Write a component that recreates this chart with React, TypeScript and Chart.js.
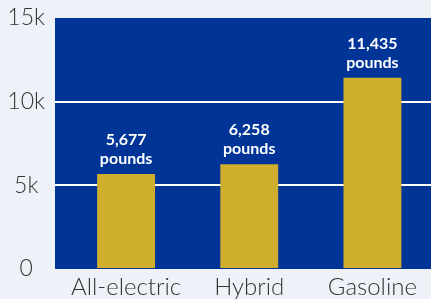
import React, { useEffect, useRef } from "react";
import { Chart, registerables } from "chart.js";

Chart.register(...registerables);

const categories = ["All-electric", "Hybrid", "Gasoline"];
const pounds = [5677, 6258, 11435];
const valueLabels = ["5,677", "6,258", "11,435"];
const unitLabel = "pounds";
const yTicks = [0, 5000, 10000, 15000];

const BLUE = "#003597";
const GOLD = "#cfae2e";
const BG = "#eef1f7";
const TEXT = "#333333";

const bgPlugin = {
  id: "plotBg",
  beforeDraw(chart: any) {
    const { ctx, chartArea } = chart;
    ctx.save();
    ctx.fillStyle = BG;
    ctx.fillRect(0, 0, chart.width, chart.height);
    ctx.fillStyle = BLUE;
    const ext = 9.5;
    ctx.fillRect(chartArea.left - ext, chartArea.top, chart.width - chartArea.left + ext, chartArea.bottom - chartArea.top);
    ctx.restore();
  },
};

const labelPlugin = {
  id: "barLabels",
  afterDatasetsDraw(chart: any) {
    const { ctx } = chart;
    const meta = chart.getDatasetMeta(0);
    ctx.save();
    ctx.fillStyle = "#ffffff";
    ctx.font = "bold 16px Lato, sans-serif";
    ctx.textAlign = "center";
    ctx.textBaseline = "middle";
    meta.data.forEach((bar: any, i: number) => {
      ctx.fillText(unitLabel, bar.x, bar.y - 15);
      ctx.fillText(valueLabels[i], bar.x, bar.y - 34);
    });
    ctx.restore();
  },
};

export default function App() {
  const ref = useRef<HTMLCanvasElement | null>(null);
  useEffect(() => {
    document.body.style.margin = "0";
    document.body.style.overflow = "hidden";
    const canvas = ref.current!;
    const chart = new Chart(canvas, {
      type: "bar",
      data: {
        labels: categories,
        datasets: [
          {
            data: pounds,
            backgroundColor: GOLD,
            borderWidth: 0,
            barPercentage: 0.47,
            categoryPercentage: 1,
          },
        ],
      },
      options: {
        responsive: false,
        animation: false,
        layout: { padding: { top: 18, right: 0, left: 0, bottom: 0 } },
        plugins: { legend: { display: false }, tooltip: { enabled: false } },
        scales: {
          x: {
            grid: { display: false, drawTicks: false },
            border: { display: false },
            ticks: {
              color: TEXT,
              font: { family: "Lato, sans-serif", size: 24, weight: 300 },
              padding: 4,
              maxRotation: 0,
            },
            afterFit(scale: any) {
              scale.height = 30;
            },
          },
          y: {
            min: 0,
            max: 15000,
            afterBuildTicks(scale: any) {
              scale.ticks = yTicks.map((v) => ({ value: v }));
            },
            border: { display: false },
            grid: {
              color: (c: any) =>
                c.tick && (c.tick.value === 5000 || c.tick.value === 10000) ? "#ffffff" : "rgba(0,0,0,0)",
              tickColor: (c: any) =>
                c.tick && (c.tick.value === 5000 || c.tick.value === 10000) ? "#ffffff" : "rgba(0,0,0,0)",
              lineWidth: 2,
              tickLength: 9.5,
            },
            ticks: {
              color: TEXT,
              font: { family: "Lato, sans-serif", size: 23, weight: 300 },
              crossAlign: "center",
              padding: 10,
              callback: (v: any) => (v === 0 ? "0" : v / 1000 + "k"),
            },
            afterFit(scale: any) {
              scale.width = 64.5;
              scale.paddingTop = 0;
              scale.paddingBottom = 0;
            },
          },
        },
      },
      plugins: [bgPlugin, labelPlugin],
    } as any);
    return () => chart.destroy();
  }, []);
  return (
    <div style={{ width: 431, height: 299, overflow: "hidden", position: "relative" }}>
      <canvas ref={ref} width={434} height={299} style={{ display: "block", width: 434, height: 299 }} />
    </div>
  );
}
